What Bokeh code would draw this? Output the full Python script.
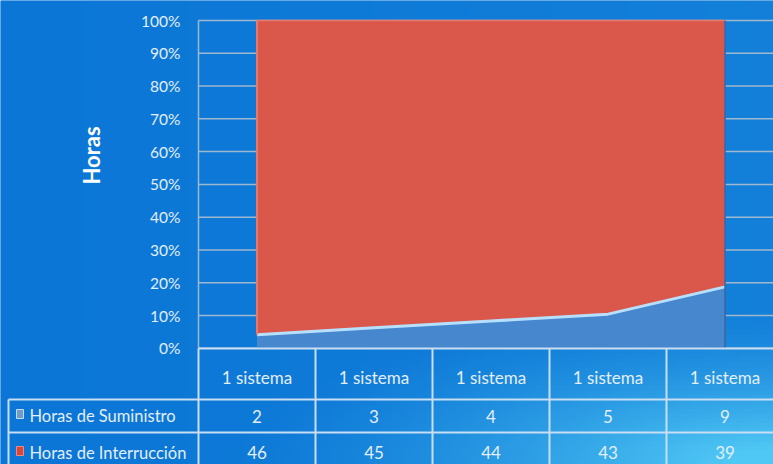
import numpy as np
from bokeh.plotting import figure
from bokeh.models import Range1d, ColumnDataSource
from bokeh.core.properties import value
from bokeh.embed import file_html
from bokeh.resources import INLINE

# ---- data ----
categories = ["1 sistema", "1 sistema", "1 sistema", "1 sistema", "1 sistema"]
series_names = ["Horas de Suministro", "Horas de Interrucción"]
suministro = [2, 3, 4, 5, 9]
interrupcion = [46, 45, 44, 43, 39]
y_ticks = [0, 10, 20, 30, 40, 50, 60, 70, 80, 90, 100]
y_tick_labels = ["0%", "10%", "20%", "30%", "40%", "50%", "60%", "70%", "80%", "90%", "100%"]
y_title = "Horas"

W, H = 773, 464
# pixel <-> data helpers (layout only)
X_PX = 117.0          # px per category
X0_PX = 256.5         # canvas x of first category
Y_PX = 3.278          # px per percent
Y0_PX = 347.8         # canvas y of 0%
def dx(cx):
    return (cx - X0_PX) / X_PX
def dy(cy):
    return (Y0_PX - cy) / Y_PX

p = figure(width=W, height=H, output_backend="svg", toolbar_location=None,
           x_range=Range1d(dx(0), dx(W)), y_range=Range1d(dy(H), dy(0)),
           min_border=0, min_border_left=0, min_border_right=0,
           min_border_top=0, min_border_bottom=0)
p.axis.visible = False
p.grid.visible = False
p.outline_line_color = None
p.background_fill_color = "#0c78d8"
p.border_fill_color = "#0c78d8"

# background gradient
nx, ny = 160, 100
gx = np.linspace(0, 1, nx)[None, :]
gy = np.linspace(0, 1, ny)[:, None]   # 0 = bottom
base = np.array([11, 118, 214], dtype=float)
light = np.array([80, 200, 245], dtype=float)
t = np.clip(1.0 - np.sqrt(((gx - 1.0) * 1.4) ** 2 + ((gy - 0.0) * 3.0) ** 2), 0, 1) ** 1.5
t = t + 0.12 * gx
t = np.clip(t, 0, 1)
img = np.zeros((ny, nx), dtype=np.uint32)
view = img.view(dtype=np.uint8).reshape((ny, nx, 4))
for k in range(3):
    view[:, :, k] = (base[k] + (light[k] - base[k]) * t).astype(np.uint8)
view[:, :, 3] = 255
p.image_rgba(image=[img], x=dx(0), y=dy(H), dw=dx(W) - dx(0), dh=dy(0) - dy(H))

n = len(categories)
xs = list(range(n))
tot = [a + b for a, b in zip(suministro, interrupcion)]
pct_s = [100.0 * a / t_ for a, t_ in zip(suministro, tot)]

grid_col = "#9fb7cf"
# horizontal gridlines
for v in y_ticks:
    p.segment(x0=[-0.5], y0=[v], x1=[dx(W)], y1=[v], line_color=grid_col, line_width=1.5)
p.segment(x0=[-0.5], y0=[0], x1=[-0.5], y1=[100], line_color=grid_col, line_width=1.5)

# stacked 100% areas
src = ColumnDataSource(dict(x=xs, s=pct_s, zero=[0] * n, top=[100] * n))
p.varea(x="x", y1="s", y2="top", source=src, fill_color="#d9574b")
p.varea(x="x", y1="zero", y2="s", source=src, fill_color="#4687cd")
p.line(x="x", y="s", source=src, line_color="#b7e0ff", line_width=3)
p.line(x="x", y="top", source=src, line_color="#e87a6e", line_width=1.5)
p.line(x=[0, 0], y=[pct_s[0], 100], line_color="#e8786c", line_width=2)
p.line(x=[n - 1, n - 1], y=[0, 100], line_color="#3a66a0", line_width=1.5)

txt_col = "#e3eefa"
font = value("Lato")
# y tick labels
p.text(x=[dx(180)] * len(y_ticks), y=y_ticks, text=y_tick_labels, text_align="right",
       text_baseline="middle", text_font=font, text_font_size="15.5px", text_color=txt_col)
# y title
p.text(x=[dx(91)], y=[dy(155)], text=[y_title], angle=np.pi / 2, text_align="center",
       text_baseline="middle", text_font=font, text_font_size="22px",
       text_font_style="bold", text_color="white")

# data table
line_col = "#c9def2"
hdr_top, r1_top, r2_top = dy(348), dy(399), dy(432)
bottom = dy(H)
p.segment(x0=[-0.5], y0=[hdr_top], x1=[dx(W)], y1=[hdr_top], line_color=line_col, line_width=2)
p.segment(x0=[dx(8)] * 2, y0=[r1_top, r2_top], x1=[dx(W)] * 2, y1=[r1_top, r2_top],
          line_color=line_col, line_width=2)
p.segment(x0=[dx(8)], y0=[r1_top], x1=[dx(8)], y1=[bottom], line_color=line_col, line_width=2)
bx = [i - 0.5 for i in range(n + 1)]
p.segment(x0=bx, y0=[hdr_top] * len(bx), x1=bx, y1=[bottom] * len(bx), line_color=line_col, line_width=2)

p.text(x=xs, y=[dy(377)] * n, text=categories, text_align="center", text_baseline="middle",
       text_font=font, text_font_size="17px", text_color=txt_col)
p.text(x=xs, y=[dy(416)] * n, text=[str(v) for v in suministro], text_align="center",
       text_baseline="middle", text_font=font, text_font_size="17px", text_color=txt_col)
p.text(x=xs, y=[dy(452)] * n, text=[str(v) for v in interrupcion], text_align="center",
       text_baseline="middle", text_font=font, text_font_size="17px", text_color=txt_col)

# legend keys + names
p.quad(left=[dx(16)], right=[dx(23)], top=[dy(409)], bottom=[dy(418)], fill_color="#6f9ccc", line_color="#c7dbef")
p.quad(left=[dx(16)], right=[dx(23)], top=[dy(446)], bottom=[dy(455)], fill_color="#d9463c", line_color="#f08a80")
p.text(x=[dx(29)] * 2, y=[dy(415), dy(452)], text=series_names, text_align="left",
       text_baseline="middle", text_font=font, text_font_size="16.5px", text_color=txt_col)

open("out.html", "w").write(file_html(p, INLINE))
